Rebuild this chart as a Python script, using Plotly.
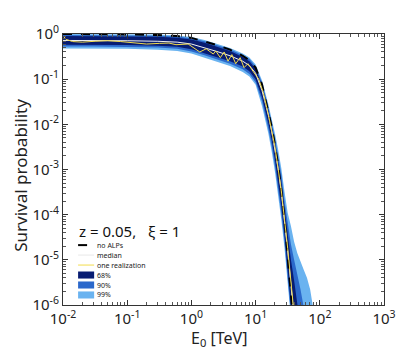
import plotly.graph_objects as go

# energy grid (TeV) for bands and reference curves
energy = [0.01, 0.03, 0.1, 0.3, 0.6, 1.0, 1.6, 2.5, 4.0, 6.3, 8.0, 10.0, 12.6, 15.8,
          17.8, 20.0, 22.4, 25.1, 28.2, 31.6, 35.5, 39.8, 44.7, 50.1, 56.2, 63.1, 70.8, 79.4]

no_alps = [1.0, 1.0, 0.98, 0.95, 0.9, 0.82, 0.69, 0.57, 0.45, 0.33, 0.26, 0.18, 0.076, 0.02,
           8.9e-3, 3.5e-3, 1.26e-3, 3.5e-4, 7.9e-5, 1.2e-5, 1.6e-6, 2.5e-7,
           None, None, None, None, None, None]

median = [0.72, 0.72, 0.71, 0.69, 0.66, 0.60, 0.50, 0.41, 0.33, 0.25, 0.20, 0.135, 0.056, 0.016,
          7.0e-3, 2.8e-3, 1.05e-3, 3.2e-4, 7.9e-5, 1.6e-5, 2.8e-6, 5.0e-7,
          None, None, None, None, None, None]

p68_hi = [0.9, 0.9, 0.89, 0.87, 0.83, 0.76, 0.64, 0.53, 0.42, 0.31, 0.25, 0.17, 0.074, 0.021,
          9.5e-3, 4.0e-3, 1.5e-3, 5.6e-4, 1.4e-4, 3.5e-5, 1.0e-5, 3.5e-6, 1.1e-6, 3.2e-7,
          None, None, None, None]
p68_lo = [0.58, 0.58, 0.57, 0.55, 0.52, 0.46, 0.38, 0.31, 0.25, 0.19, 0.15, 0.10, 0.04, 0.0105,
          4.5e-3, 1.66e-3, 5.6e-4, 1.6e-4, 3.5e-5, 6.3e-6, 1.0e-6, 1.6e-7,
          None, None, None, None, None, None]

p90_hi = [0.95, 0.95, 0.94, 0.92, 0.88, 0.81, 0.69, 0.57, 0.46, 0.34, 0.28, 0.19, 0.083, 0.024,
          0.0112, 5.0e-3, 2.0e-3, 7.9e-4, 2.0e-4, 6.3e-5, 2.2e-5, 1.0e-5, 5.0e-6, 2.2e-6,
          8.9e-7, 3.2e-7, None, None]
p90_lo = [0.53, 0.53, 0.52, 0.50, 0.47, 0.41, 0.34, 0.28, 0.22, 0.165, 0.13, 0.085, 0.032, 7.9e-3,
          3.3e-3, 1.2e-3, 4.0e-4, 1.1e-4, 2.5e-5, 4.5e-6, 7.0e-7, 1.0e-7,
          None, None, None, None, None, None]

p99_hi = [1.0, 1.0, 0.99, 0.97, 0.93, 0.86, 0.74, 0.61, 0.49, 0.37, 0.30, 0.21, 0.093, 0.028,
          0.014, 6.3e-3, 2.8e-3, 1.1e-3, 3.2e-4, 1.1e-4, 5.6e-5, 2.5e-5, 1.4e-5, 8.9e-6,
          6.0e-6, 4.0e-6, 2.2e-6, 8.0e-7]
p99_lo = [0.48, 0.48, 0.47, 0.45, 0.42, 0.37, 0.30, 0.245, 0.195, 0.145, 0.115, 0.075, 0.025, 6.3e-3,
          2.5e-3, 8.9e-4, 2.8e-4, 7.9e-5, 1.8e-5, 3.2e-6, 5.0e-7, 1.0e-7,
          None, None, None, None, None, None]

# one random realization of the B-field
real_E = [0.01, 0.0112, 0.0141, 0.02, 0.0316, 0.05, 0.079, 0.126, 0.2, 0.316, 0.447, 0.575,
          0.89, 1.35, 1.7, 2.19, 2.4, 2.82, 3.24, 3.72, 4.27, 4.9, 5.75, 6.6, 7.6, 9.1,
          11.2, 13.2, 15.8, 20.0, 25.1, 31.6, 38.0, 41.7]
real_P = [0.91, 0.76, 0.68, 0.66, 0.69, 0.71, 0.68, 0.63, 0.60, 0.62, 0.63, 0.58,
          0.60, 0.40, 0.47, 0.36, 0.42, 0.30, 0.40, 0.25, 0.35, 0.22, 0.30, 0.18, 0.22, 0.15,
          0.10, 0.05, 0.0166, 3.2e-3, 3.5e-4, 1.8e-5, 1.1e-6, 3.2e-7]

xticks = [0.01, 0.1, 1, 10, 100, 1000]
xlabels = ['10<sup>-2</sup>', '10<sup>-1</sup>', '10<sup>0</sup>', '10<sup>1</sup>', '10<sup>2</sup>', '10<sup>3</sup>']
yticks = [1e-6, 1e-5, 1e-4, 1e-3, 1e-2, 1e-1, 1]
ylabels = ['10<sup>-6</sup>', '10<sup>-5</sup>', '10<sup>-4</sup>', '10<sup>-3</sup>',
           '10<sup>-2</sup>', '10<sup>-1</sup>', '10<sup>0</sup>']

C68, C90, C99 = '#081c72', '#2b68cb', '#6ab3f0'
YELLOW = '#f2dc4c'


def band(hi, lo):
    xs, ys = [], []
    for e, v in zip(energy, hi):
        if v is not None:
            xs.append(e); ys.append(v)
    for e, v in reversed(list(zip(energy, lo))):
        if v is not None:
            xs.append(e); ys.append(v)
    return xs, ys


fig = go.Figure()
for hi, lo, col in [(p99_hi, p99_lo, C99), (p90_hi, p90_lo, C90), (p68_hi, p68_lo, C68)]:
    bx, by = band(hi, lo)
    fig.add_trace(go.Scatter(x=bx, y=by, fill='toself', fillcolor=col, mode='lines',
                             line=dict(width=0, color=col), hoverinfo='skip'))

fig.add_trace(go.Scatter(x=energy, y=median, mode='lines', line=dict(color='#f2f2f2', width=1)))
fig.add_trace(go.Scatter(x=energy, y=no_alps, mode='lines',
                         line=dict(color='black', width=2, dash='dash')))
fig.add_trace(go.Scatter(x=real_E, y=real_P, mode='lines', line=dict(color=YELLOW, width=1)))

# hand-made legend in the lower-left corner (matlab style, compact rows)
legend_rows = [('no ALPs', 'line', 'black'), ('median', 'line', '#e8e8e8'),
               ('one realization', 'line', YELLOW), ('68%', 'box', C68),
               ('90%', 'box', C90), ('99%', 'box', C99)]
x0, x1, row_top, row_step = 0.047, 0.097, 0.221, 0.0368
for i, (label, kind, col) in enumerate(legend_rows):
    yy = row_top - i * row_step
    if kind == 'line':
        fig.add_shape(type='line', xref='paper', yref='paper', x0=x0, x1=x1, y0=yy, y1=yy,
                      line=dict(color=col, width=2 if label == 'no ALPs' else 1,
                                dash='dash' if label == 'no ALPs' else 'solid'))
    else:
        fig.add_shape(type='rect', xref='paper', yref='paper', x0=x0, x1=x1,
                      y0=yy - 0.013, y1=yy + 0.013, fillcolor=col, line=dict(width=0))
    fig.add_annotation(xref='paper', yref='paper', x=x1 + 0.003, y=yy, text=label,
                       showarrow=False, xanchor='left', yanchor='middle',
                       font=dict(size=7, color='#222'))
fig.add_annotation(xref='paper', yref='paper', x=0.045, y=0.273, text='z = 0.05,   \u03be = 1',
                   showarrow=False, xanchor='left', yanchor='middle',
                   font=dict(size=15, color='#111'))

# axis titles placed by hand (matlab puts them closer than plotly would)
fig.add_annotation(xref='paper', yref='paper', x=0.486, y=-0.125, text='E<sub>0</sub> [TeV]',
                   showarrow=False, xanchor='center', yanchor='middle',
                   font=dict(size=16, color='#222'))
fig.add_annotation(xref='paper', yref='paper', x=-0.131, y=0.48, text='Survival probability',
                   showarrow=False, xanchor='center', yanchor='middle', textangle=-90,
                   font=dict(size=17, color='#222'))

axis_style = dict(type='log', showline=True, linecolor='#333', linewidth=1, mirror='ticks',
                  ticks='inside', ticklen=5, tickcolor='#333', showgrid=False, zeroline=False,
                  automargin=False,
                  minor=dict(ticks='inside', ticklen=3, tickcolor='#555', dtick='D1', showgrid=False),
                  tickfont=dict(size=15, color='#222'))

fig.update_layout(
    width=415, height=354,
    margin=dict(l=55, r=39, t=26, b=57),
    paper_bgcolor='white', plot_bgcolor='white',
    font=dict(family='Noto Sans', color='#222'),
    showlegend=False,
)
fig.update_xaxes(axis_style, range=[-2, 3], tickvals=xticks, ticktext=xlabels, ticklabelstandoff=0)
fig.update_yaxes(axis_style, range=[-6, 0], tickvals=yticks, ticktext=ylabels)

fig.write_html("out.html")
